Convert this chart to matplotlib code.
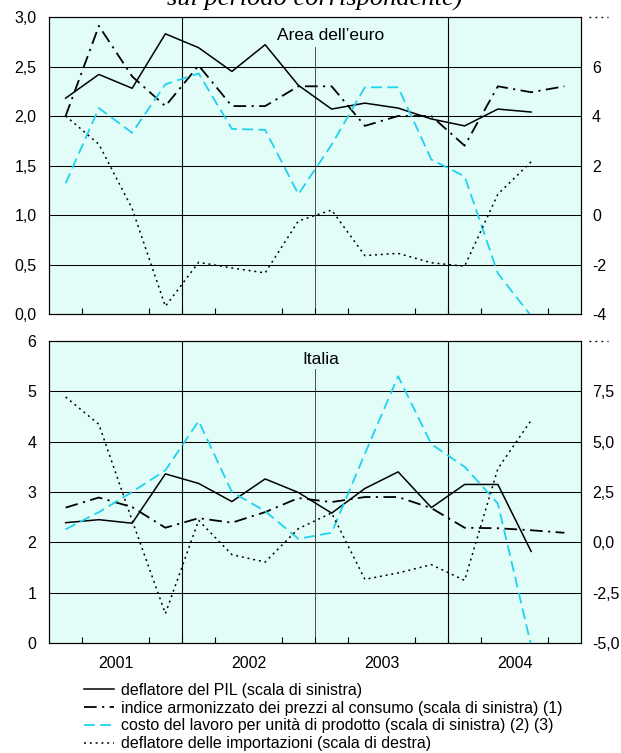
import matplotlib
matplotlib.use("Agg")
import matplotlib.pyplot as plt
import numpy as np

plt.rcParams['font.family'] = ['Liberation Sans', 'DejaVu Sans']

# quarterly data 2001Q1 - 2004Q4
years = ["2001", "2002", "2003", "2004"]

# Area dell'euro
euro_pil = [2.18, 2.42, 2.28, 2.83, 2.69, 2.45, 2.72, 2.31, 2.07, 2.13, 2.08, 1.97, 1.90, 2.07, 2.04]
euro_hicp = [2.0, 2.91, 2.4, 2.1, 2.51, 2.1, 2.1, 2.3, 2.3, 1.9, 2.0, 2.0, 1.7, 2.3, 2.24, 2.3]
euro_clup = [1.32, 2.08, 1.83, 2.32, 2.43, 1.87, 1.86, 1.21, 1.71, 2.29, 2.29, 1.56, 1.39, 0.41, -0.02]
euro_imp = [4.0, 2.86, 0.26, -3.69, -1.91, -2.14, -2.34, -0.24, 0.2, -1.64, -1.55, -1.93, -2.07, 0.84, 2.15]

# Italia
ita_pil = [2.39, 2.45, 2.38, 3.36, 3.17, 2.81, 3.26, 2.99, 2.58, 3.07, 3.40, 2.69, 3.15, 3.15, 1.82]
ita_hicp = [2.69, 2.89, 2.70, 2.29, 2.48, 2.39, 2.60, 2.88, 2.80, 2.90, 2.90, 2.68, 2.29, 2.28, 2.24, 2.19]
ita_clup = [2.26, 2.60, 3.0, 3.43, 4.41, 3.0, 2.62, 2.07, 2.19, 3.76, 5.30, 3.95, 3.50, 2.77, -0.05]
ita_imp = [7.22, 5.86, 1.09, -3.54, 1.09, -0.61, -0.98, 0.68, 1.46, -1.84, -1.52, -1.11, -1.89, 3.66, 6.06]

labels = ["deflatore del PIL (scala di sinistra)",
          "indice armonizzato dei prezzi al consumo (scala di sinistra) (1)",
          "costo del lavoro per unità di prodotto (scala di sinistra) (2) (3)",
          "deflatore delle importazioni (scala di destra)"]

BG = '#e2fcf8'
CYAN = '#1ed2f0'
FS = 11.5

fig = plt.figure(figsize=(6.21, 7.53), dpi=100)
W, H = 621, 753
L, R = 49, 581


def make_panel(top, bottom, title, tx, left_lim, left_ticks, left_lbls,
               right_lim, right_ticks, right_lbls, pil, hicp, clup, imp, show_years, vl_top):
    ax = fig.add_axes([L / W, 1 - bottom / H, (R - L) / W, (bottom - top) / H])
    ax.set_facecolor(BG)
    ax.set_xlim(0, 16)
    ax.set_ylim(*left_lim)
    ax.set_yticks(left_ticks)
    ax.set_yticklabels(left_lbls)
    for y in left_ticks[1:-1]:
        ax.axhline(y, color='black', lw=0.75, zorder=1)
    for x in (4, 12):
        ax.axvline(x, color='black', lw=0.8, zorder=1)
    ax.axvline(8, ymax=vl_top, color='#333333', lw=0.6, zorder=1)
    ax.set_xticks([2, 6, 10, 14])
    ax.set_xticklabels(years if show_years else [])
    ax.set_xticks(range(1, 16), minor=True)
    ax.tick_params(axis='x', which='major', length=0, pad=9, labelsize=FS)
    ax.tick_params(axis='x', which='minor', direction='in', length=4, width=0.8)
    ax.tick_params(axis='y', length=0, pad=9, labelsize=FS)
    for s in ax.spines.values():
        s.set_linewidth(0.8)

    ax2 = ax.twinx()
    ax2.set_ylim(*right_lim)
    ax2.set_yticks(right_ticks)
    ax2.set_yticklabels(right_lbls)
    ax2.tick_params(axis='y', length=0, pad=8, labelsize=FS)
    for s in ax2.spines.values():
        s.set_linewidth(0.8)

    x_pil = np.arange(len(pil)) + 0.5
    x_hicp = np.arange(len(hicp)) + 0.5
    x_clup = np.arange(len(clup)) + 0.5
    x_imp = np.arange(len(imp)) + 0.5
    l1, = ax.plot(x_pil, pil, color='black', lw=1.1, zorder=3)
    l2, = ax.plot(x_hicp, hicp, color='black', lw=1.3, dashes=(7, 3, 1.2, 3), zorder=3)
    l3, = ax.plot(x_clup, clup, color=CYAN, lw=1.3, dashes=(6, 3), zorder=3)
    l4, = ax2.plot(x_imp, imp, color='black', lw=1.1, dashes=(1.3, 2.5), zorder=3)

    ax.text(tx, 1 - 18 / (bottom - top), title, transform=ax.transAxes,
            ha='center', va='center', fontsize=12.5)
    # right-scale marker
    ax.plot([1.015, 1.05], [1, 1], transform=ax.transAxes, color='black',
            lw=1.0, dashes=(1.3, 3), clip_on=False)
    return [l1, l2, l3, l4]


make_panel(17, 314, "Area dell\u2019euro", 0.53,
           (0, 3), np.arange(0, 3.01, 0.5), ["0,0", "0,5", "1,0", "1,5", "2,0", "2,5", "3,0"],
           (-4, 8), [-4, -2, 0, 2, 4, 6], ["-4", "-2", "0", "2", "4", "6"],
           euro_pil, euro_hicp, euro_clup, euro_imp, False, 0.9)

handles = make_panel(341, 643, "Italia", 0.51,
                     (0, 6), np.arange(0, 6.01, 1), ["0", "1", "2", "3", "4", "5", "6"],
                     (-5, 10), [-5, -2.5, 0, 2.5, 5, 7.5], ["-5,0", "-2,5", "0,0", "2,5", "5,0", "7,5"],
                     ita_pil, ita_hicp, ita_clup, ita_imp, True, 0.907)

fig.legend(handles, labels, loc='upper left', bbox_to_anchor=(84 / W, 1 - 683 / H),
           frameon=False, fontsize=FS, handlelength=1.85, handletextpad=0.45,
           labelspacing=0.17, borderpad=0, borderaxespad=0)

fig.text(315 / W, 1 - 6 / H, "sul periodo corrispondente)", ha='center', va='baseline',
         family='Liberation Serif', style='italic', fontsize=19)

fig.savefig("out.png", dpi=100)
